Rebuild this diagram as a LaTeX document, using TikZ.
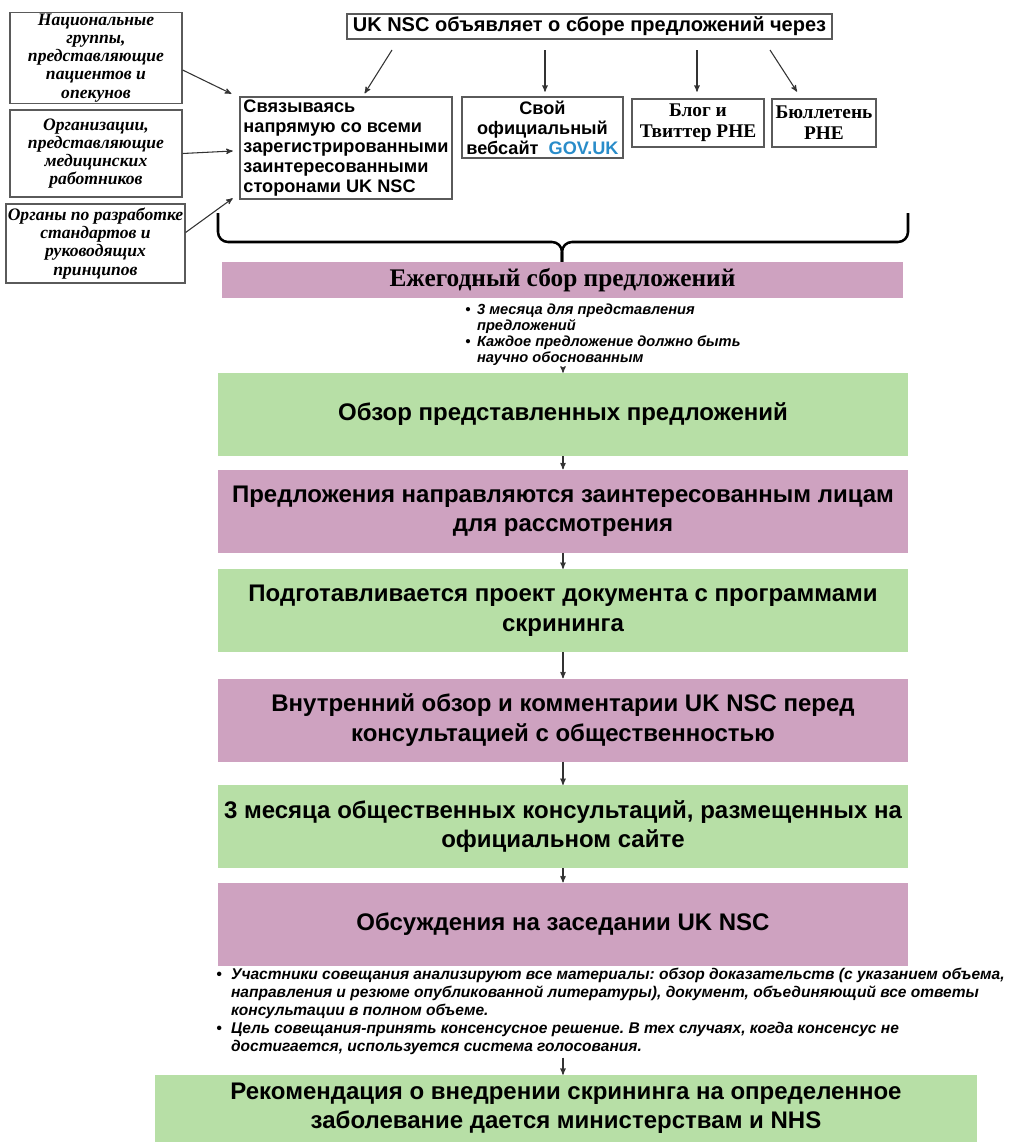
\documentclass[tikz,border=0pt]{standalone}
\usepackage{fontspec}
\setmainfont{Liberation Sans}
\newfontfamily\serifru{Liberation Serif}
\usetikzlibrary{arrows,positioning}
\frenchspacing
\definecolor{verde}{RGB}{183,223,166}
\definecolor{lila}{RGB}{206,162,192}
\definecolor{azulgov}{RGB}{41,140,201}
\definecolor{borde}{RGB}{90,90,90}
\tikzset{
	every node/.style={
		font=\bfseries
	},
	grupo/.style={
		shape=rectangle,
		draw=borde,
		line width=0.9pt,
		inner sep=1pt,
		align=center,
		font=\serifru\bfseries\itshape\fontsize{13.2}{13.6}\selectfont
	},
	canal/.style={
		shape=rectangle,
		draw=borde,
		line width=0.9pt,
		inner sep=1.5pt,
		align=center,
		font=\bfseries\fontsize{13.6}{15}\selectfont
	},
	canalrhe/.style={
		canal,
		font=\serifru\bfseries\fontsize{14.5}{15.75}\selectfont
	},
	paso/.style={
		shape=rectangle,
		inner sep=0pt,
		minimum width=517.5pt,
		minimum height=62.25pt,
		align=center,
		font=\bfseries\fontsize{18}{22}\selectfont
	},
	verdepaso/.style={paso, fill=verde},
	lilapaso/.style={paso, fill=lila},
	nota/.style={
		inner sep=0pt,
		align=left,
		font=\bfseries\itshape\fontsize{11}{12}\selectfont
	},
	myarrow/.style={->, draw=black!80, line width=0.8pt},
	llave/.style={line width=1.9pt, rounded corners=7.5pt}
}
\begin{document}
\begin{tikzpicture}[x=0.75pt, y=-0.75pt, >=stealth']
	\useasboundingbox (0,0) rectangle (1009,1142);
	
	% Grupos interesados
	\node[grupo, minimum width=129pt, minimum height=66pt] (A) at (96,58) {Национальные\\ группы,\\ представляющие\\ пациентов и\\ опекунов};
	\node[grupo, minimum width=129pt, minimum height=65.25pt] (B) at (96,153.5) {Организации,\\ представляющие\\ медицинских\\ работников};
	\node[grupo, minimum width=134.25pt, minimum height=59.25pt] (C) at (95.5,243.5) {Органы по разработке\\ стандартов и\\ руководящих\\ принципов};
	
	% Anuncio y canales
	\node[canal, minimum width=363.75pt, minimum height=18.75pt, inner sep=1pt, font=\bfseries\fontsize{15}{16}\selectfont] (Z) at (589.5,26.5) {UK NSC объявляет о сборе предложений через};
	\node[canal, minimum width=159pt, minimum height=76.5pt, align=left] (D) at (346,148) {Связываясь\\ напрямую со всеми\\ зарегистрированными\\ заинтересованными\\ сторонами UK NSC};
	\node[canal, minimum width=120.75pt, minimum height=45.75pt] (E) at (542.5,127.5) {Свой\\ официальный\\ вебсайт\ \ \textcolor{azulgov}{GOV.UK}};
	\node[canalrhe, minimum width=99pt, minimum height=36pt] (F) at (698,123) {Блог и\\ Твиттер PHE};
	\node[canalrhe, minimum width=78pt, minimum height=36pt] (G) at (824,123) {Бюллетень\\ PHE};
	
	\coordinate (z1) at (392,50);
	\coordinate (z2) at (545,50);
	\coordinate (z3) at (697,50);
	\coordinate (z4) at (770,50);
	
	\draw[myarrow] (z1) -- ([xshift=14pt,yshift=2.25pt]D.north);
	\draw[myarrow, shorten >=3.5pt] (z2) -- (z2 |- E.north);
	\draw[myarrow, shorten >=5pt] (z3) -- (z3 |- F.north);
	\draw[myarrow, shorten >=6pt] (z4) -- ([xshift=-17pt]G.north);
	
	\draw[myarrow] ([yshift=-9pt]A.east) -- ([xshift=-6pt,yshift=2pt]D.north west);
	\draw[myarrow] (B.east) -- ([xshift=-5pt,yshift=-2.25pt]D.west);
	\draw[myarrow] ([yshift=8.25pt]C.east) -- ([xshift=-5pt,yshift=1pt]D.south west);
	
	% Llave
	\draw[llave] (218,213) |- (562,242) -- (562,262);
	\draw[llave] (908,213) |- (562,242) -- (562,262);
	
	% Etapas
	\node[paso, fill=lila, minimum width=510.75pt, minimum height=27pt, font=\serifru\bfseries\fontsize{19}{20}\selectfont] (H) at (562.5,280) {Ежегодный сбор предложений};
	\node[nota, anchor=north west] (I) at (465,303) {\begin{tabular}{@{}l@{\hspace{5pt}}l@{}}
		• & 3 месяца для представления\\
		  & предложений\\
		• & Каждое предложение должно быть\\
		  & научно обоснованным
	\end{tabular}};
	
	\node[verdepaso] (J) at (563,414.5) {Обзор представленных предложений};
	\node[lilapaso, below=9.75pt of J] (K) {Предложения направляются заинтересованным лицам\\ для рассмотрения};
	\node[verdepaso, below=12pt of K] (L) {Подготавливается проект документа с программами\\ скрининга};
	\node[lilapaso, below=19.5pt of L] (M) {Внутренний обзор и комментарии UK NSC перед\\ консультацией с общественностью};
	\node[verdepaso, below=17.25pt of M] (N) {3 месяца общественных консультаций, размещенных на\\ официальном сайте};
	\node[lilapaso, below=10.5pt of N] (O) {Обсуждения на заседании UK NSC};
	
	\node[nota, anchor=north west, font=\bfseries\itshape\fontsize{11.65}{13.5}\selectfont] (Q) at (216,967) {\begin{tabular}{@{}l@{\hspace{7pt}}l@{}}
		• & Участники совещания анализируют все материалы: обзор доказательств (с указанием объема,\\
		  & направления и резюме опубликованной литературы), документ, объединяющий все ответы\\
		  & консультации в полном объеме.\\
		• & Цель совещания-принять консенсусное решение. В тех случаях, когда консенсус не\\
		  & достигается, используется система голосования.
	\end{tabular}};
	
	\node[paso, fill=verde, minimum width=616.5pt, minimum height=50.25pt] (R) at (566,1108.5) {Рекомендация о внедрении скрининга на определенное\\ заболевание дается министерствам и NHS};
	
	\draw[myarrow] (J.north |- I.south) -- (J.north);
	\draw[myarrow] (J) -- (K);
	\draw[myarrow] (K) -- (L);
	\draw[myarrow] (L) -- (M);
	\draw[myarrow] (M) -- (N);
	\draw[myarrow] (N) -- (O);
	\draw[myarrow] (O.south |- Q.south) -- (O.south |- R.north);
	
\end{tikzpicture}
\end{document}
